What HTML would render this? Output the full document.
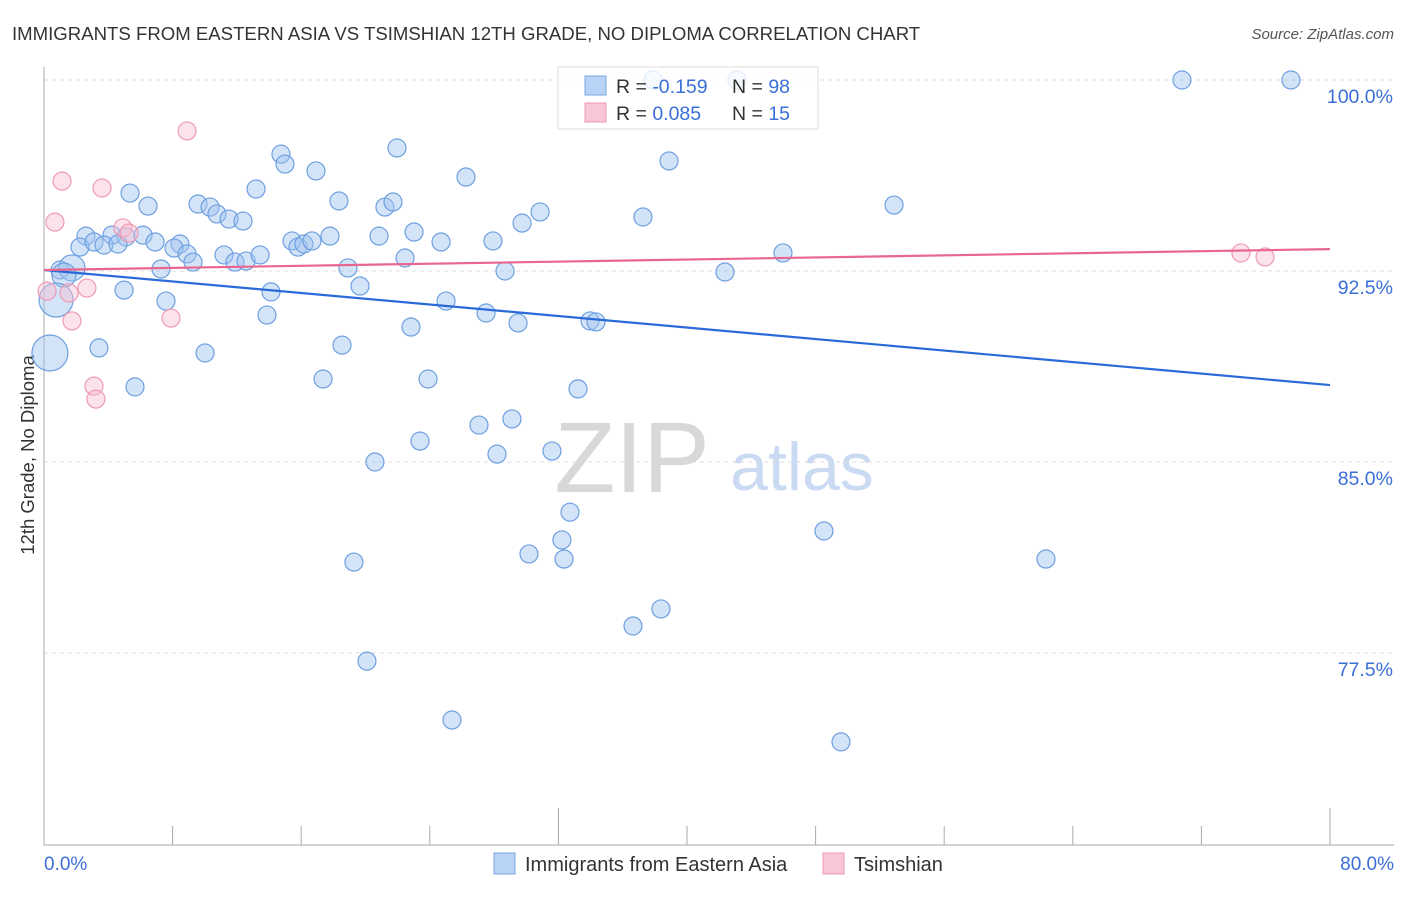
<!DOCTYPE html>
<html><head><meta charset="utf-8"><style>
body{margin:0;background:#fff;font-family:"Liberation Sans",sans-serif;}
svg text{font-family:"Liberation Sans",sans-serif;}
</style></head><body>
<svg id="c" width="1406" height="892" xmlns="http://www.w3.org/2000/svg">
<text x="12" y="40" font-size="18.6" fill="#333">IMMIGRANTS FROM EASTERN ASIA VS TSIMSHIAN 12TH GRADE, NO DIPLOMA CORRELATION CHART</text>
<text x="1394" y="39" font-size="15" fill="#555" font-style="italic" text-anchor="end">Source: ZipAtlas.com</text>
<text x="632" y="492" font-size="100" fill="#d8d8d8" font-family="Liberation Serif" text-anchor="middle">ZIP</text>
<text x="802" y="490" font-size="68" fill="#c9daf2" text-anchor="middle">atlas</text>
<text transform="translate(34,455) rotate(-90)" font-size="18.5" fill="#333" text-anchor="middle">12th Grade, No Diploma</text>
<g id="grid"></g><g id="axes"></g><g id="pts"></g><g id="trend"></g>
<g>
<rect x="558" y="67" width="260" height="62" fill="#fff" fill-opacity="0.8" stroke="#ddd"/>
<rect x="585" y="76" width="21" height="19" fill="#b8d3f5" stroke="#7aa6e0"/>
<rect x="585" y="103" width="21" height="19" fill="#f9c6d6" stroke="#ec9ab4"/>
<text x="616" y="93" font-size="19.5" fill="#333">R = <tspan fill="#3a6fd8">-0.159</tspan></text>
<text x="732" y="93" font-size="19.5" fill="#333">N = <tspan fill="#3a6fd8">98</tspan></text>
<text x="616" y="120" font-size="19.5" fill="#333">R = <tspan fill="#3a6fd8"> 0.085</tspan></text>
<text x="732" y="120" font-size="19.5" fill="#333">N = <tspan fill="#3a6fd8"> 15</tspan></text>
</g>
<g>
<rect x="494" y="853" width="21" height="21" fill="#b8d3f5" stroke="#7aa6e0"/>
<text x="525" y="871" font-size="20" fill="#333">Immigrants from Eastern Asia</text>
<rect x="823" y="853" width="21" height="21" fill="#f9c6d6" stroke="#ec9ab4"/>
<text x="854" y="871" font-size="20" fill="#333">Tsimshian</text>
</g>
</svg>
<script>
const yTicks=[100,92.5,85,77.5];
const yTickLabels=["100.0%","92.5%","85.0%","77.5%"];
const xLabels=["0.0%","80.0%"];
const blueX=[37.89,43.11,70.79,77.57,21.96,14.74,14.99,38.88,16.92,26.25,5.35,13.19,18.35,6.47,9.58,10.33,21.21,21.71,10.76,11.51,12.38,30.86,29.74,37.26,52.88,2.61,4.23,5.10,6.16,2.24,3.11,3.73,4.60,6.91,8.46,8.09,8.90,9.27,11.20,11.88,12.57,13.44,15.43,15.80,16.17,16.67,17.79,20.84,23.02,24.70,27.93,45.97,22.46,7.28,18.91,28.68,42.36,1.00,1.74,1.24,4.98,14.12,19.66,7.59,25.01,0.75,27.50,13.87,22.83,29.49,33.97,34.34,3.42,10.02,18.54,0.37,5.66,17.36,23.89,33.22,29.11,27.06,23.39,31.60,28.18,20.59,32.72,48.52,32.22,30.17,32.35,19.28,62.33,38.38,36.64,20.09,25.38,49.58];
const blueY=[100,100,100,100,97.33,97.09,96.70,96.82,96.43,96.19,95.56,95.72,95.25,95.05,95.13,95.01,95.01,95.21,94.74,94.54,94.46,94.82,94.38,94.62,95.09,93.87,93.91,93.84,93.91,93.44,93.64,93.52,93.56,93.64,93.56,93.40,93.17,92.85,93.13,92.85,92.89,93.13,93.68,93.44,93.56,93.68,93.87,93.87,94.03,93.64,93.68,93.21,93.01,92.58,92.62,92.50,92.46,92.54,92.62,92.34,91.75,91.68,91.91,91.32,91.32,91.36,90.85,90.77,90.30,90.46,90.54,90.50,89.48,89.28,89.59,89.28,87.95,88.26,88.26,87.87,86.69,86.45,85.82,85.43,85.31,85.00,83.03,82.29,81.94,81.39,81.19,81.07,81.19,79.23,78.56,77.18,74.87,74.01];
const blueR=[9,9,9,9,9,9,9,9,9,9,9,9,9,9,9,9,9,9,9,9,9,9,9,9,9,9,9,9,9,9,9,9,9,9,9,9,9,9,9,9,9,9,9,9,9,9,9,9,9,9,9,9,9,9,9,9,9,9,13,12,9,9,9,9,9,17,9,9,9,9,9,9,9,9,9,18,9,9,9,9,9,9,9,9,9,9,9,9,9,9,9,9,9,9,9,9,9,9];
const pinkX=[8.90,1.12,3.61,0.68,4.91,5.29,74.46,75.96,0.19,1.56,2.67,1.74,7.90,3.11,3.23];
const pinkY=[98.00,96.03,95.76,94.42,94.19,93.99,93.21,93.05,91.71,91.64,91.83,90.54,90.65,87.98,87.47];
const blueTrend=[92.54,88.02];
const pinkTrend=[92.54,93.36];
const X0=44,X1=1330,Ytop=80,pxPer=191/7.5;
const sx=v=>X0+(v/80)*(X1-X0);
const sy=v=>Ytop+(100-v)*pxPer;
const NS="http://www.w3.org/2000/svg";
function mk(p,t,a){const e=document.createElementNS(NS,t);for(const k in a)e.setAttribute(k,a[k]);p.appendChild(e);return e;}
const grid=document.getElementById('grid'),axes=document.getElementById('axes'),pts=document.getElementById('pts'),trend=document.getElementById('trend');
yTicks.forEach((v,i)=>{
 const l=mk(grid,'line',{x1:X0,x2:1394,y1:sy(v),y2:sy(v),stroke:'#ddd','stroke-dasharray':'4,4'});
 
 
 const t=mk(grid,'text',{x:1393,y:sy(v)+23,'font-size':19.5,fill:'#3a6fd8','text-anchor':'end'});
 t.textContent=yTickLabels[i];
 
 
});
const ya=mk(axes,'line',{x1:X0,x2:X0,y1:67,y2:845,stroke:'#aaa'});


const xa=mk(axes,'line',{x1:X0,x2:1394,y1:845,y2:845,stroke:'#aaa'});


for(let i=0;i<=10;i++){
 const xv=i*8;const major=(i==4||i==10);
 const t=mk(axes,'line',{x1:sx(xv),x2:sx(xv),y1:major?808:826,y2:845,stroke:'#aaa'});
 
 
}
[[0,'start',44],[80,'end',1394]].forEach((d,i)=>{
 const t=mk(axes,'text',{x:d[2],y:870,'font-size':19,fill:'#3a6fd8','text-anchor':d[1]});
 t.textContent=xLabels[i];
 
 
});
blueX.forEach((v,i)=>{
 const c=mk(pts,'circle',{cx:sx(v),cy:sy(blueY[i]),r:blueR[i],fill:'rgba(160,196,240,0.45)',stroke:'#6e9fe0','stroke-width':1.2});
 
 
});
pinkX.forEach((v,i)=>{
 const c=mk(pts,'circle',{cx:sx(v),cy:sy(pinkY[i]),r:9,fill:'rgba(248,190,208,0.45)',stroke:'#ee9ab5','stroke-width':1.2});
 
 
});
const bl=mk(trend,'line',{x1:sx(0),x2:sx(80),y1:sy(blueTrend[0]),y2:sy(blueTrend[1]),stroke:'#2a6ad8','stroke-width':2.2});


const pl=mk(trend,'line',{x1:sx(0),x2:sx(80),y1:sy(pinkTrend[0]),y2:sy(pinkTrend[1]),stroke:'#e8668f','stroke-width':2.2});


</script>
</body></html>
